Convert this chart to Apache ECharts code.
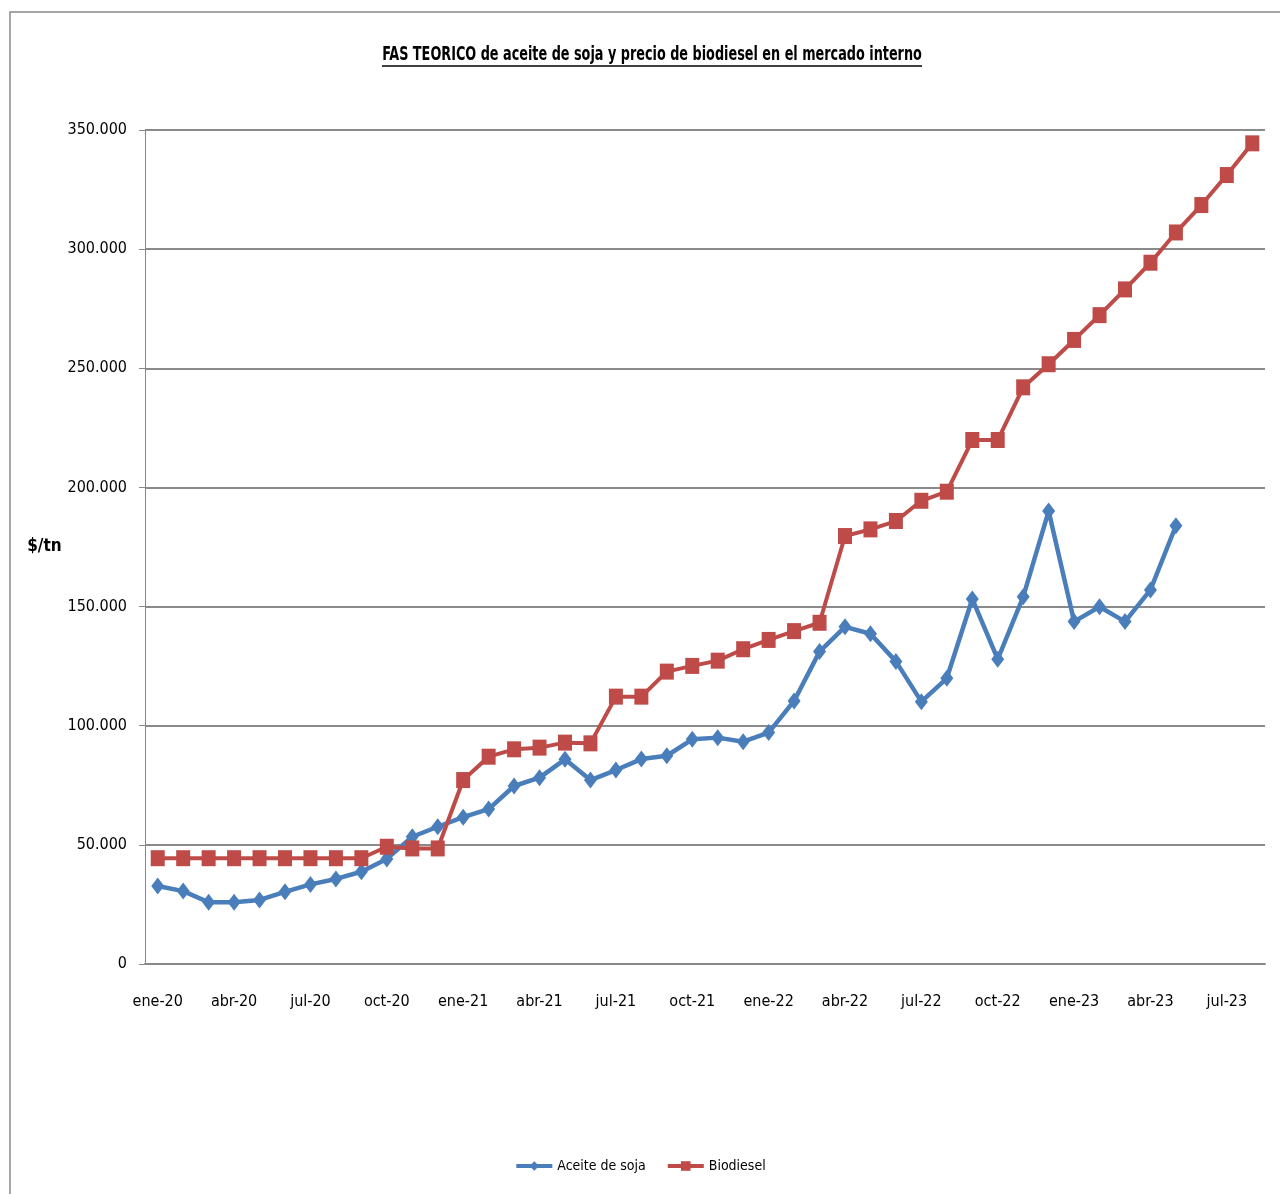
<!DOCTYPE html>
<html>
<head>
<meta charset="utf-8">
<script src="https://cdn.jsdelivr.net/npm/echarts@6/dist/echarts.min.js"></script>
<style>
html,body{margin:0;padding:0;background:#fff;}
#chart{width:1280px;height:1194px;}
</style>
</head>
<body>
<div id="chart"></div>
<script>
const months = ['ene','feb','mar','abr','may','jun','jul','ago','sep','oct','nov','dic'];
const categories = [];
for (let y = 20; y <= 23; y++) {
  for (let m = 0; m < 12; m++) {
    if (y === 23 && m > 7) break;
    categories.push(months[m] + '-' + y);
  }
}
const aceiteDeSoja = [
  32700, 30600, 25900, 25900, 26900, 30300, 33400, 35700, 38700, 44100, 53400, 57600,
  61600, 65000, 74700, 78200, 85900, 77200, 81400, 86000, 87400, 94300, 95000, 93300,
  97100, 110400, 131100, 141500, 138600, 127000, 110100, 119900, 153200, 127900, 154100, 190100,
  143700, 149900, 143700, 157000, 183900, null, null, null
];
const biodiesel = [
  44400, 44400, 44400, 44400, 44400, 44400, 44400, 44400, 44400, 49200, 48500, 48500,
  77200, 87000, 90100, 90800, 92900, 92600, 112200, 112200, 122700, 125100, 127300, 132100,
  136000, 139700, 143200, 179600, 182400, 185900, 194400, 198200, 219900, 219900, 242000, 251700,
  261900, 272300, 283100, 294300, 307000, 318500, 331100, 344400
];
const seriesNames = ['Aceite de soja', 'Biodiesel'];
const titleText = 'FAS TEORICO de aceite de soja y precio de biodiesel en el mercado interno';
const yAxisName = '$/tn';

const FONT = '"DejaVu Sans Condensed", "Liberation Sans", sans-serif';

function fmt(v) {
  if (v === 0) return '0';
  return String(v).replace(/\B(?=(\d{3})+(?!\d))/g, '.');
}

const chart = echarts.init(document.getElementById('chart'), null, {renderer: 'canvas'});
chart.setOption({
  animation: false,
  backgroundColor: '#fff',
  graphic: [
    {type: 'rect', silent: true, shape: {x: 10, y: 12, width: 1300, height: 1300},
     style: {fill: null, stroke: '#8a8a8a', lineWidth: 1.5}},
    {type: 'text', silent: true, x: 652, y: 55, scaleX: 0.75,
     style: {text: titleText, fontFamily: FONT, fontSize: 19, fontWeight: 'bold', fill: '#000',
             align: 'center', verticalAlign: 'middle'}},
    {type: 'line', silent: true, shape: {x1: 382, y1: 66, x2: 922, y2: 66},
     style: {stroke: '#000', lineWidth: 1.3}}
  ],
  grid: {left: 145, right: 15, top: 130, bottom: 230, containLabel: false},
  legend: {
    data: seriesNames,
    left: 'center',
    top: 1154,
    itemWidth: 36,
    itemHeight: 12,
    itemGap: 20,
    lineStyle: {width: 4},
    textStyle: {fontFamily: FONT, fontSize: 14, color: '#000'}
  },
  xAxis: {
    type: 'category',
    data: categories,
    boundaryGap: true,
    axisLine: {lineStyle: {color: '#888', width: 2}},
    axisTick: {interval: 2, length: 7, lineStyle: {color: '#888', width: 1}},
    axisLabel: {interval: 2, margin: 30, fontFamily: FONT, fontSize: 16, color: '#000'},
    splitLine: {show: false}
  },
  yAxis: {
    type: 'value',
    min: 0,
    max: 350000,
    interval: 50000,
    name: yAxisName,
    nameLocation: 'middle',
    nameRotate: 0,
    nameGap: 72,
    nameTextStyle: {fontFamily: FONT, fontSize: 17, fontWeight: 'bold', color: '#000'},
    axisLine: {show: true, lineStyle: {color: '#888', width: 1}},
    axisTick: {show: true, length: 6, lineStyle: {color: '#888'}},
    axisLabel: {margin: 18, fontFamily: FONT, fontSize: 16, color: '#000', formatter: fmt},
    splitLine: {lineStyle: {color: '#8a8a8a', width: 1.8}}
  },
  series: [
    {
      name: seriesNames[0],
      type: 'line',
      data: aceiteDeSoja,
      color: '#4A7EBB',
      symbol: 'diamond',
      symbolSize: [13, 17],
      showAllSymbol: true,
      lineStyle: {width: 4.5, color: '#4A7EBB'},
      itemStyle: {color: '#4A7EBB'},
      connectNulls: false
    },
    {
      name: seriesNames[1],
      type: 'line',
      data: biodiesel,
      color: '#BE4B48',
      symbol: 'rect',
      symbolSize: [14, 16],
      showAllSymbol: true,
      lineStyle: {width: 4, color: '#BE4B48'},
      itemStyle: {color: '#BE4B48'}
    }
  ]
});
</script>
</body>
</html>
